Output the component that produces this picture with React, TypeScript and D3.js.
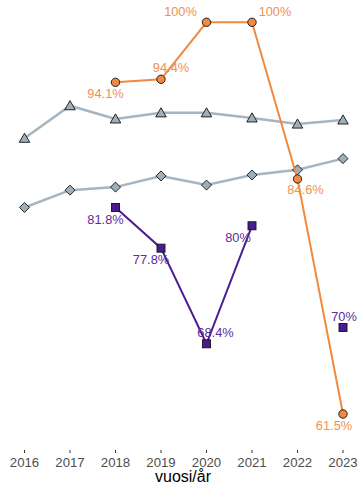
import React from "react";
import * as d3 from "d3";

const years = [2016, 2017, 2018, 2019, 2020, 2021, 2022, 2023];
const triangleSeries: (number | null)[] = [88.6, 91.8, 90.5, 91.1, 91.1, 90.6, 90.0, 90.4];
const diamondSeries: (number | null)[] = [81.8, 83.5, 83.8, 84.9, 84.0, 85.0, 85.5, 86.6];
const orangeSeries: (number | null)[] = [null, null, 94.1, 94.4, 100, 100, 84.6, 61.5];
const purpleSeries: (number | null)[] = [null, null, 81.8, 77.8, 68.4, 80, null, 70];
const orangeLabels = ["", "", "94.1%", "94.4%", "100%", "100%", "84.6%", "61.5%"];
const purpleLabels = ["", "", "81.8%", "77.8%", "68.4%", "80%", "", "70%"];
// label nudges (repel-style placement)
const orangeNudge: [number, number][] = [[0, 0], [0, 0], [-10, 16], [10, -7], [-26, -6], [23, -6], [8, 15], [-9, 16]];
const purpleNudge: [number, number][] = [[0, 0], [0, 0], [-10, 17], [-10, 16], [9, -7], [-14, 16], [0, 0], [1, -7]];
const xTitle = "vuosi/år";

const W = 359;
const H = 484;

export default function App() {
  const x = d3.scaleLinear().domain([2016, 2023]).range([24.5, 343]);
  const y = d3.scaleLinear().domain([61.5, 100]).range([414, 22.3]);

  const mkLine = (vals: (number | null)[]) =>
    d3
      .line<number | null>()
      .defined((d) => d !== null)
      .x((_, i) => x(years[i]))
      .y((d) => y(d as number))(vals) || "";

  const grey = "#a6b5c0";
  const greyFill = "#9dafba";
  const orange = "#ef8a40";
  const orangeText = "#f19050";
  const purple = "#4b1c91";
  const purpleText = "#5b2d9c";
  const font = "'Liberation Sans', Arial, Helvetica, sans-serif";

  const tri = d3.symbol().type(d3.symbolTriangle).size(48)() || "";
  const dia = (s: number) => `M0,${-s}L${s},0L0,${s}L${-s},0Z`;

  return (
    <svg width={W} height={H} style={{ position: "absolute", left: 0, top: 0, display: "block", background: "#fff" }}>
      {/* grey lines */}
      <path d={mkLine(triangleSeries)} fill="none" stroke={grey} strokeWidth={2.5} />
      <path d={mkLine(diamondSeries)} fill="none" stroke={grey} strokeWidth={2.5} />
      {triangleSeries.map((v, i) =>
        v === null ? null : (
          <path key={"t" + i} d={tri} transform={`translate(${x(years[i])},${y(v) + 1})`} fill={greyFill} stroke="#111" strokeWidth={0.9} />
        )
      )}
      {diamondSeries.map((v, i) =>
        v === null ? null : (
          <path key={"d" + i} d={dia(5)} transform={`translate(${x(years[i])},${y(v)})`} fill={greyFill} stroke="#111" strokeWidth={0.9} />
        )
      )}
      {/* purple */}
      <path d={mkLine(purpleSeries)} fill="none" stroke={purple} strokeWidth={2} />
      {purpleSeries.map((v, i) =>
        v === null ? null : (
          <rect key={"p" + i} x={x(years[i]) - 4} y={y(v) - 4} width={8} height={8} fill={purple} stroke="#111" strokeWidth={0.9} />
        )
      )}
      {/* orange */}
      <path d={mkLine(orangeSeries)} fill="none" stroke={orange} strokeWidth={2} />
      {orangeSeries.map((v, i) =>
        v === null ? null : (
          <circle key={"o" + i} cx={x(years[i])} cy={y(v)} r={4.2} fill={orange} stroke="#111" strokeWidth={0.9} />
        )
      )}
      {/* labels */}
      {orangeSeries.map((v, i) =>
        v === null ? null : (
          <text key={"ol" + i} x={x(years[i]) + orangeNudge[i][0]} y={y(v) + orangeNudge[i][1]} textAnchor="middle" fontFamily={font} fontSize={12.8} fill={orangeText}>
            {orangeLabels[i]}
          </text>
        )
      )}
      {purpleSeries.map((v, i) =>
        v === null ? null : (
          <text key={"pl" + i} x={x(years[i]) + purpleNudge[i][0]} y={y(v) + purpleNudge[i][1]} textAnchor="middle" fontFamily={font} fontSize={12.8} fill={purpleText}>
            {purpleLabels[i]}
          </text>
        )
      )}
      {/* x axis */}
      {years.map((yr) => (
        <g key={"ax" + yr}>
          <line x1={x(yr)} x2={x(yr)} y1={450} y2={453} stroke="#333" strokeWidth={1} />
          <text x={x(yr)} y={467} textAnchor="middle" fontFamily={font} fontSize={13.2} fill="#4d4d4d">
            {yr}
          </text>
        </g>
      ))}
      <text x={183} y={482} textAnchor="middle" fontFamily={font} fontSize={16} fill="#000">
        {xTitle}
      </text>
    </svg>
  );
}
